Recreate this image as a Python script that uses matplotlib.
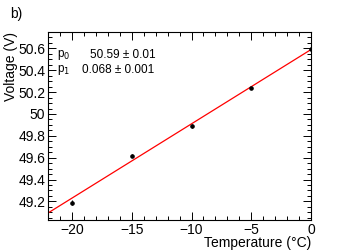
import matplotlib
matplotlib.use("Agg")
import matplotlib.pyplot as plt
import numpy as np
from matplotlib.ticker import MultipleLocator

temperature = [-20, -15, -10, -5, 0]
voltage = [49.19, 49.62, 49.89, 50.24, 50.59]
voltage_err = [0.02, 0.015, 0.015, 0.01, 0.01]

p0, p0_err = 50.59, 0.01
p1, p1_err = 0.068, 0.001

plt.rcParams['font.family'] = ['Liberation Sans', 'DejaVu Sans']

fig = plt.figure(figsize=(3.43, 2.5), dpi=100)
ax = fig.add_axes([0.14, 0.12, 0.767, 0.752])

xfit = np.array([-22, 0])
ax.plot(xfit, p0 + p1 * xfit, color='red', lw=0.9, zorder=2)
ax.errorbar(temperature, voltage, yerr=voltage_err, fmt='o', ms=2.3,
            color='black', ecolor='black', elinewidth=0.8, capsize=0, zorder=3)

ax.set_xlim(-22, 0)
ax.set_ylim(49.03, 50.75)
ax.xaxis.set_minor_locator(MultipleLocator(1))
ax.yaxis.set_minor_locator(MultipleLocator(0.05))
ax.tick_params(which='both', direction='in', top=True, right=True, labelsize=10, width=0.7, pad=2)
ax.tick_params(which='major', length=6)
ax.tick_params(which='minor', length=3)
for s in ax.spines.values():
    s.set_linewidth(0.8)

ax.set_xticks([-20, -15, -10, -5, 0])
ax.set_xticklabels(['\u221220', '\u221215', '\u221210', '\u22125', '0'])
ax.set_yticks([49.2, 49.4, 49.6, 49.8, 50, 50.2, 50.4, 50.6])
ax.set_yticklabels(['49.2', '49.4', '49.6', '49.8', '50', '50.2', '50.4', '50.6'])

ax.set_xlabel('Temperature (\u00b0C)', fontsize=10, loc='right', va='center')
ax.xaxis.set_label_coords(1.0, -0.125)
ax.set_ylabel('Voltage (V)', fontsize=10, loc='top', va='center')
ax.yaxis.set_label_coords(-0.14, 1.0)

ax.text(0.035, 0.88, 'p$_0$', transform=ax.transAxes, fontsize=8.5, va='center')
ax.text(0.16, 0.88, f'{p0:.2f} \u00b1 {p0_err:.2f}', transform=ax.transAxes, fontsize=8.5, va='center')
ax.text(0.035, 0.80, 'p$_1$', transform=ax.transAxes, fontsize=8.5, va='center')
ax.text(0.13, 0.80, f'{p1:.3f} \u00b1 {p1_err:.3f}', transform=ax.transAxes, fontsize=8.5, va='center')

fig.text(0.03, 0.945, 'b)', fontsize=10, va='center')

fig.savefig('out.png', dpi=100)
